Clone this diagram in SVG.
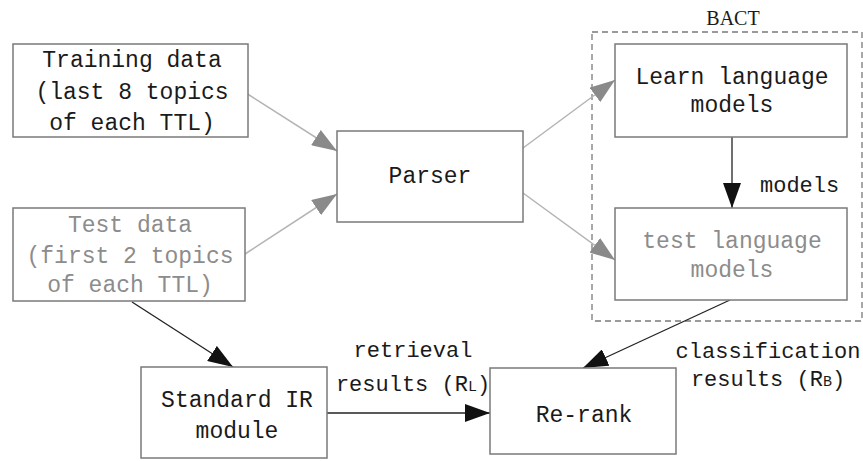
<svg xmlns="http://www.w3.org/2000/svg" width="863" height="461" viewBox="0 0 863 461">
  <style>
    .box { fill: #ffffff; stroke: #7a7a7a; stroke-width: 1.5; }
    .txt { font-family: "Liberation Mono", "DejaVu Sans Mono", monospace; font-size: 23px; fill: #1a1a1a; text-anchor: middle; }
    .dim { fill: #8c8c8c; }
    .lbl { font-family: "Liberation Mono", "DejaVu Sans Mono", monospace; font-size: 22px; fill: #1a1a1a; }
    .gray { stroke: #b4b4b4; stroke-width: 1.5; fill: none; marker-end: url(#headGray); }
    .dark { stroke: #222222; stroke-width: 1.3; fill: none; marker-end: url(#headDark); }
  </style>
  <defs>
    <marker id="headGray" markerUnits="userSpaceOnUse" markerWidth="26" markerHeight="18" refX="25" refY="9" orient="auto">
      <path d="M0,0 L25,9 L0,18 z" fill="#8a8a8a"/>
    </marker>
    <marker id="headDark" markerUnits="userSpaceOnUse" markerWidth="26" markerHeight="18" refX="25" refY="9" orient="auto">
      <path d="M0,0 L25,9 L0,18 z" fill="#111111"/>
    </marker>
  </defs>

  <rect width="863" height="461" fill="#ffffff"/>

  <!-- BACT group boundary -->
  <g id="bact">
    <rect x="592" y="32" width="270" height="289" fill="none" stroke="#7a7a7a" stroke-width="1.3" stroke-dasharray="6 4"/>
    <text x="733" y="25" font-family="Liberation Serif, serif" font-size="20" fill="#1a1a1a" text-anchor="middle">BACT</text>
  </g>

  <g id="connectors">
    <line class="gray" x1="246" y1="93" x2="337" y2="151"/>
    <line class="gray" x1="245" y1="254" x2="337" y2="194"/>
    <line class="gray" x1="523" y1="148" x2="615" y2="80"/>
    <line class="gray" x1="523" y1="193" x2="615" y2="260"/>
    <line class="dark" x1="732" y1="137" x2="732" y2="208"/>
    <line class="dark" x1="132" y1="302" x2="233" y2="367"/>
    <line class="dark" x1="327" y1="413" x2="490" y2="413"/>
    <line class="dark" x1="730" y1="300" x2="583" y2="368"/>
    <text class="lbl" x="760" y="192">models</text>
    <text class="lbl" x="413" y="357" text-anchor="middle">retrieval</text>
    <text class="lbl" x="413" y="391" text-anchor="middle">results (R<tspan font-size="15">L</tspan>)</text>
    <text class="lbl" x="768" y="358" text-anchor="middle">classification</text>
    <text class="lbl" x="768" y="386" text-anchor="middle">results (R<tspan font-size="15">B</tspan>)</text>
  </g>

  <g id="training-data">
    <rect class="box" x="13" y="44" width="235" height="93"/>
    <text class="txt" x="132" y="67">Training data</text>
    <text class="txt" x="132" y="99">(last 8 topics</text>
    <text class="txt" x="132" y="130">of each TTL)</text>
  </g>

  <g id="test-data">
    <rect class="box" x="13" y="208" width="232" height="93"/>
    <text class="txt dim" x="130" y="232">Test data</text>
    <text class="txt dim" x="130" y="263">(first 2 topics</text>
    <text class="txt dim" x="130" y="292">of each TTL)</text>
  </g>

  <g id="parser">
    <rect class="box" x="337" y="131" width="186" height="91"/>
    <text class="txt" x="430" y="183">Parser</text>
  </g>

  <g id="learn-lm">
    <rect class="box" x="615" y="44" width="232" height="93"/>
    <text class="txt" x="732" y="84">Learn language</text>
    <text class="txt" x="732" y="112">models</text>
  </g>

  <g id="test-lm">
    <rect class="box" x="615" y="208" width="232" height="92"/>
    <text class="txt dim" x="732" y="248">test language</text>
    <text class="txt dim" x="732" y="277">models</text>
  </g>

  <g id="standard-ir">
    <rect class="box" x="141" y="367" width="186" height="91"/>
    <text class="txt" x="237" y="407">Standard IR</text>
    <text class="txt" x="237" y="438">module</text>
  </g>

  <g id="re-rank">
    <rect class="box" x="490" y="368" width="186" height="86"/>
    <text class="txt" x="584" y="422">Re-rank</text>
  </g>
</svg>
